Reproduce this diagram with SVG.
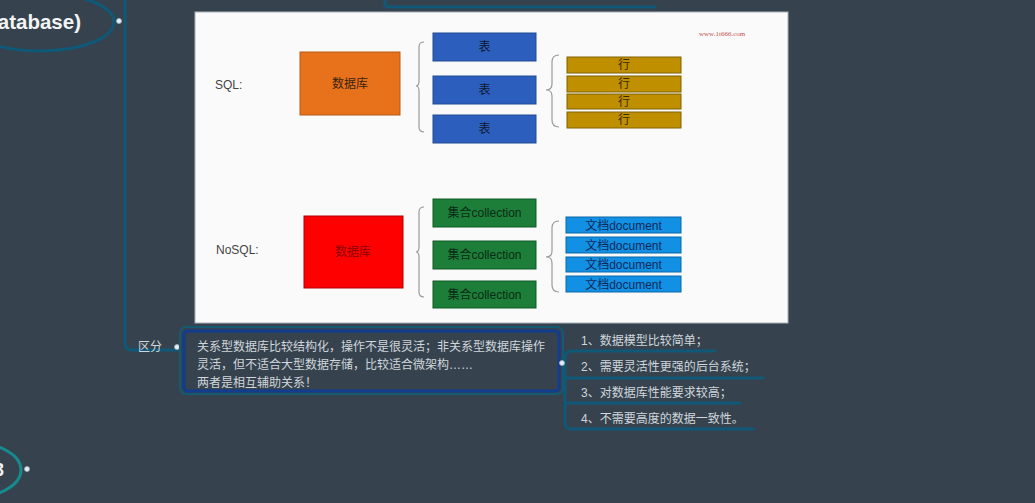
<svg xmlns="http://www.w3.org/2000/svg" width="1035" height="503" viewBox="0 0 1035 503">
<style>
.bg{fill:#36434f}
.line{fill:none;stroke:#0f5878;stroke-width:3;stroke-linecap:round;stroke-linejoin:round}
.brace{fill:none;stroke:#9a9a9a;stroke-width:1.2}
.dot{fill:#e8eef2;stroke:#9fb0bd;stroke-width:0.8}
.t{font-family:"Liberation Sans","Noto Sans CJK SC",sans-serif;font-size:12px}
.lt{fill:#d0d6db}
.c{text-anchor:middle}
.box{stroke-width:1}
</style>
<rect class="bg" x="0" y="0" width="1035" height="503"/>

<g id="connectors">
  <path class="line" d="M125,0 L125,343 Q125,350 132,350 L180,350"/>
  <path class="line" d="M385,0 L385,3 Q385,7 389,7 L655,7"/>
  <path class="line" d="M715,351 L572,351 Q565,351 565,358 L565,422 Q565,429 572,429 L753,429"/>
  <path class="line" d="M565,378 L763,378"/>
  <path class="line" d="M565,403 L740,403"/>
</g>

<g id="topic-database">
  <ellipse cx="40" cy="22" rx="74" ry="29" fill="none" stroke="#0f5878" stroke-width="3"/>
  <text x="81" y="29" text-anchor="end" font-family="Liberation Sans, sans-serif" font-size="20.5" font-weight="bold" fill="#f2f4f6">atabase)</text>
  <circle class="dot" cx="119" cy="21" r="2.5"/>
</g>

<g id="topic-bottom">
  <ellipse cx="-30" cy="470" rx="51" ry="28" fill="none" stroke="#168a8c" stroke-width="3"/>
  <text x="4" y="476" text-anchor="end" font-family="Liberation Sans, sans-serif" font-size="18" font-weight="bold" fill="#f2f4f6">3</text>
  <circle class="dot" cx="27" cy="469" r="2.5"/>
</g>

<g id="picture">
  <rect x="195" y="12" width="593" height="311" fill="#fafafa" stroke="#a9b2ba" stroke-width="1"/>
  <text x="699" y="36" font-family="Liberation Serif, serif" font-size="7" fill="#c8504a">www.1t666.com</text>

  <g id="sql">
    <text class="t" x="215" y="89" fill="#444">SQL:</text>
    <g id="sql-db">
      <rect class="box" x="300" y="52" width="100" height="63" fill="#e8711c" stroke="#b85a14"/>
      <text class="t c" x="350" y="88" fill="#3a2410">数据库</text>
    </g>
    <g id="sql-tables" fill="#2c5fbd">
      <rect class="box" x="433" y="33" width="103" height="28" stroke="#1f4a94"/>
      <rect class="box" x="433" y="76" width="103" height="28" stroke="#1f4a94"/>
      <rect class="box" x="433" y="115" width="103" height="28" stroke="#1f4a94"/>
    </g>
    <text class="t c" x="484.5" y="51" fill="#101830">表</text>
    <text class="t c" x="484.5" y="94" fill="#101830">表</text>
    <text class="t c" x="484.5" y="133" fill="#101830">表</text>
    <g id="sql-rows" fill="#bf8f00">
      <rect class="box" x="567" y="57" width="114" height="16" stroke="#7f6000"/>
      <rect class="box" x="567" y="76" width="114" height="16" stroke="#7f6000"/>
      <rect class="box" x="567" y="94" width="114" height="15" stroke="#7f6000"/>
      <rect class="box" x="567" y="112" width="114" height="16" stroke="#7f6000"/>
    </g>
    <text class="t c" x="624" y="69" fill="#3a2a00">行</text>
    <text class="t c" x="624" y="88" fill="#3a2a00">行</text>
    <text class="t c" x="624" y="106" fill="#3a2a00">行</text>
    <text class="t c" x="624" y="124" fill="#3a2a00">行</text>
    <path class="brace" d="M424,42 Q419,42 419,47 L419,81 Q419,86 416,86 Q419,86 419,91 L419,127 Q419,132 424,132"/>
    <path class="brace" d="M559,55 Q552,55 552,62 L552,84 Q552,90 546,90 Q552,90 552,96 L552,120 Q552,127 559,127"/>
  </g>

  <g id="nosql">
    <text class="t" x="216" y="254" fill="#444">NoSQL:</text>
    <g id="nosql-db">
      <rect class="box" x="304" y="216" width="99" height="72" fill="#ff0000" stroke="#b00000"/>
      <text class="t c" x="353" y="256" fill="#8a0000">数据库</text>
    </g>
    <g id="nosql-collections" fill="#1d7e3a">
      <rect class="box" x="433" y="199" width="103" height="28" stroke="#0f5a25"/>
      <rect class="box" x="433" y="241" width="103" height="28" stroke="#0f5a25"/>
      <rect class="box" x="433" y="281" width="103" height="27" stroke="#0f5a25"/>
    </g>
    <text class="t c" x="484.5" y="217" fill="#0c2a14">集合collection</text>
    <text class="t c" x="484.5" y="259" fill="#0c2a14">集合collection</text>
    <text class="t c" x="484.5" y="299" fill="#0c2a14">集合collection</text>
    <g id="nosql-docs" fill="#1190e4">
      <rect class="box" x="566" y="217" width="115" height="16" stroke="#0a67a8"/>
      <rect class="box" x="566" y="237" width="115" height="16" stroke="#0a67a8"/>
      <rect class="box" x="566" y="257" width="115" height="15" stroke="#0a67a8"/>
      <rect class="box" x="566" y="276" width="115" height="16" stroke="#0a67a8"/>
    </g>
    <text class="t c" x="623.5" y="229.5" fill="#102a5a">文档document</text>
    <text class="t c" x="623.5" y="249.5" fill="#102a5a">文档document</text>
    <text class="t c" x="623.5" y="269" fill="#102a5a">文档document</text>
    <text class="t c" x="623.5" y="288.5" fill="#102a5a">文档document</text>
    <path class="brace" d="M424,207 Q419,207 419,212 L419,247 Q419,252 416,252 Q419,252 419,257 L419,292 Q419,297 424,297"/>
    <path class="brace" d="M559,221 Q552,221 552,228 L552,251 Q552,257 546,257 Q552,257 552,263 L552,285 Q552,292 559,292"/>
  </g>
</g>

<g id="topic-qufen">
  <text class="t lt" x="138" y="351">区分</text>
  <circle class="dot" cx="177" cy="347" r="2.5"/>
</g>

<g id="topic-summary">
  <rect x="180" y="327" width="383" height="67" rx="6" fill="none" stroke="#145a73" stroke-width="2"/>
  <rect x="184" y="331" width="375" height="60" rx="4" fill="#36434f" stroke="#123c8e" stroke-width="3"/>
  <text class="t lt" x="197" y="350.5">关系型数据库比较结构化，操作不是很灵活；非关系型数据库操作</text>
  <text class="t lt" x="197" y="368.5">灵活，但不适合大型数据存储，比较适合微架构……</text>
  <text class="t lt" x="197" y="386.5">两者是相互辅助关系！</text>
  <circle class="dot" cx="562" cy="363" r="2.5"/>
</g>

<g id="item-1"><text class="t lt" x="581" y="345">1、数据模型比较简单；</text></g>
<g id="item-2"><text class="t lt" x="581" y="371">2、需要灵活性更强的后台系统；</text></g>
<g id="item-3"><text class="t lt" x="581" y="397">3、对数据库性能要求较高；</text></g>
<g id="item-4"><text class="t lt" x="581" y="423">4、不需要高度的数据一致性。</text></g>
</svg>
